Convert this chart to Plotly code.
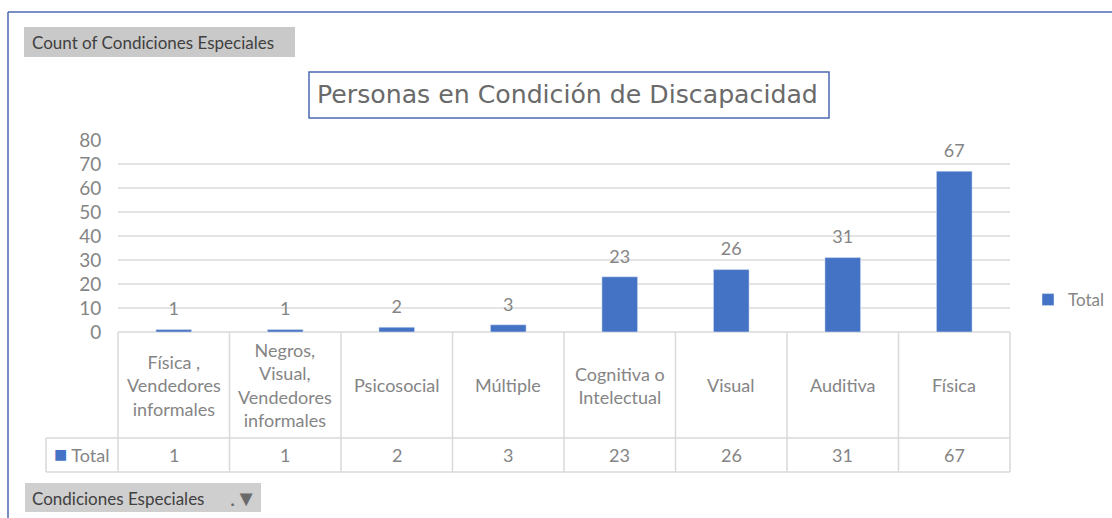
import plotly.graph_objects as go

W, H = 1112, 518
categories = ["Física ,<br>Vendedores<br>informales", "Negros,<br>Visual,<br>Vendedores<br>informales",
              "Psicosocial", "Múltiple", "Cognitiva o<br>Intelectual", "Visual", "Auditiva", "Física"]
values = [1, 1, 2, 3, 23, 26, 31, 67]
y_ticks = [0, 10, 20, 30, 40, 50, 60, 70, 80]
series_name = "Total"
title_text = "Personas en Condición de Discapacidad"
field_button = "Count of Condiciones Especiales"
filter_button = "Condiciones Especiales"

BLUE = "#4472c4"
TXT = "#858585"
GRID = "#e4e4e4"
TBL = "#d9d9d9"
FONT = "Lato"

def px(x): return x / W
def py(y): return 1 - y / H

xs = list(range(len(values)))
fig = go.Figure(go.Bar(x=xs, y=values, name=series_name, marker_color=BLUE, showlegend=True))
# value labels sit higher above the bars than a bar's own outside text
fig.add_trace(go.Scatter(
    x=xs, y=values, mode="markers+text", text=values, textposition="top center", cliponaxis=False,
    marker=dict(size=14, opacity=0), showlegend=False, hoverinfo="skip",
    textfont=dict(size=18, color=TXT, family=FONT),
))

shapes, ann = [], []
def rect(x0, y0, x1, y1, fill=None, line=None, lw=1):
    shapes.append(dict(type="rect", xref="paper", yref="paper", x0=px(x0), x1=px(x1), y0=py(y0), y1=py(y1),
                       fillcolor=fill or "rgba(0,0,0,0)", line=dict(color=line or "rgba(0,0,0,0)", width=lw if line else 0), layer="below"))
def hline(x0, x1, y, color=TBL):
    shapes.append(dict(type="line", xref="paper", yref="paper", x0=px(x0), x1=px(x1), y0=py(y), y1=py(y), line=dict(color=color, width=1.5), layer="below"))
def vline(x, y0, y1, color=TBL):
    shapes.append(dict(type="line", xref="paper", yref="paper", x0=px(x), x1=px(x), y0=py(y0), y1=py(y1), line=dict(color=color, width=1.5), layer="below"))
def text(x, y, s, size=18, color=TXT, anchor="center", family=FONT, xref="paper"):
    ann.append(dict(xref=xref, yref="paper", x=x if xref != "paper" else px(x), y=py(y), text=s, showarrow=False,
                    xanchor=anchor, yanchor="middle", align="center", font=dict(size=size, color=color, family=family)))

# outer frame
hline(8, 1112, 12, "#4a6ab0")
vline(8, 12, 518, "#4a6ab0")
# field buttons
rect(24, 27, 295, 57, "#c9c9c9")
text(30, 42, field_button, size=17, color="#404040", anchor="left")
rect(25, 483, 261, 512, "#cfcfcf")
text(30, 498, filter_button, size=17, color="#404040", anchor="left")
text(243, 497, ".▼", size=22, color="#6a6a6a")
# title box
rect(309, 72, 829, 118, "#ffffff", "#4a6ab0", 1.5)
text(567, 95, title_text, size=25.2, color="#6a6a6a", family="DejaVu Sans")
# data table
L, R, N = 118, 1010, len(values)
hline(L, R, 332); hline(46, R, 438); hline(46, R, 472)
vline(46, 438, 472)
for i in range(N + 1):
    vline(L + (R - L) * i / N, 332, 472)
for i, (c, v) in enumerate(zip(categories, values)):
    text(i, 385, c, xref="x")
    text(i, 455, str(v), xref="x")
text(82, 453, f"<span style='color:{BLUE};font-size:22px'>■</span> {series_name}")

fig.update_layout(
    width=W, height=H, autosize=False, margin=dict(l=0, r=0, t=0, b=0),
    paper_bgcolor="white", plot_bgcolor="white", bargap=0.68,
    xaxis=dict(domain=[px(L), px(R)], range=[-0.5, N - 0.5], showticklabels=False, showgrid=False, zeroline=False, ticks="", automargin=False),
    yaxis=dict(domain=[py(332), py(140)], range=[0, 80], tickvals=y_ticks, gridcolor=GRID, gridwidth=1.5, zeroline=False, automargin=False,
               tickfont=dict(size=19, color=TXT, family=FONT), ticks="outside", tickcolor="white", ticklen=12, showline=False),
    legend=dict(x=px(1028), y=py(300), xanchor="left", yanchor="middle", font=dict(size=17, color=TXT, family=FONT),
                bgcolor="rgba(0,0,0,0)", itemwidth=30),
    shapes=shapes, annotations=ann,
)
fig.write_html("out.html", config=dict(displayModeBar=False),
               post_script="document.body.style.margin='0';document.body.style.overflow='hidden';")
